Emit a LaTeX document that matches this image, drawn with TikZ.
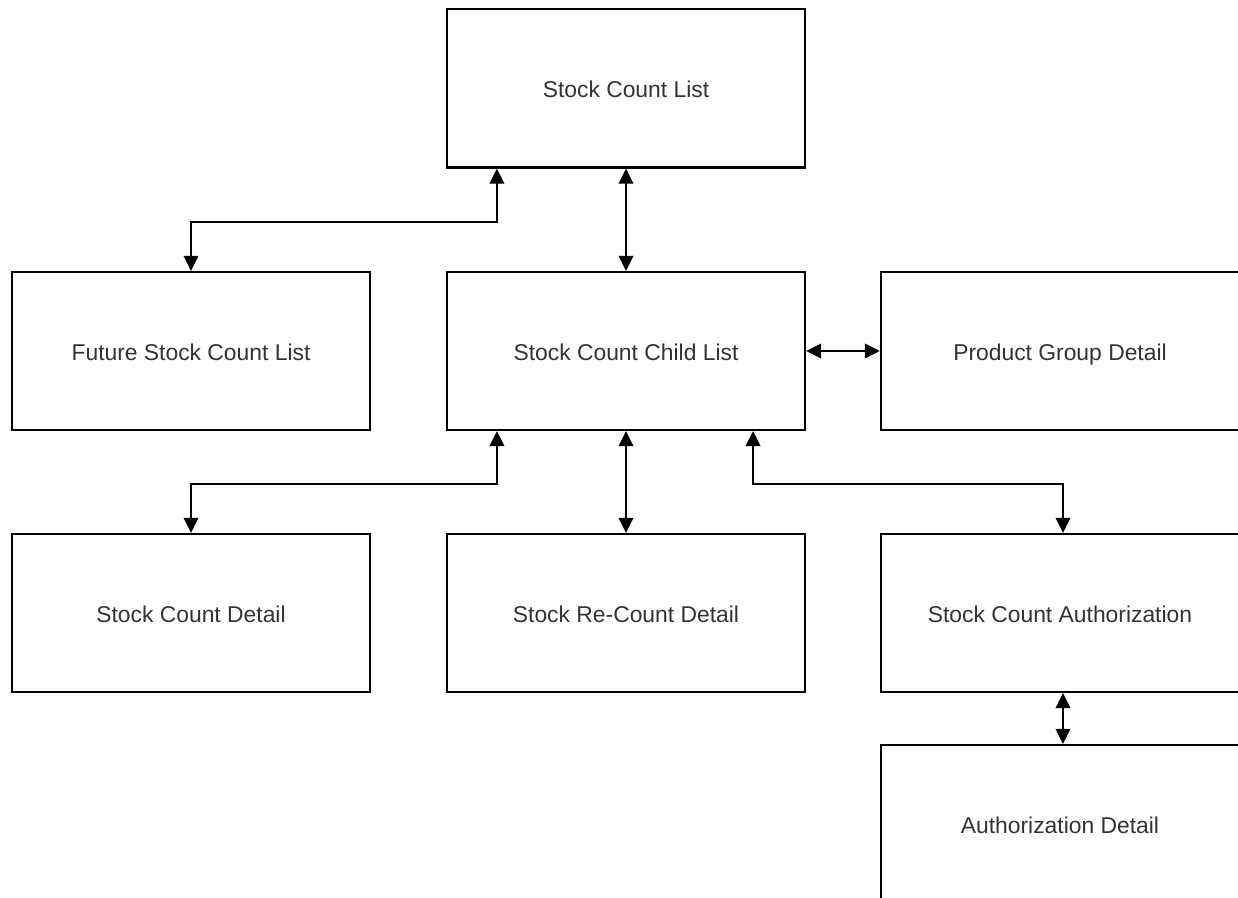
\documentclass[tikz,border=0pt]{standalone}
\usepackage{fontspec}
\setmainfont{Liberation Sans}
\usetikzlibrary{arrows.meta}
\begin{document}
\begin{tikzpicture}[x=0.01cm,y=-0.01cm,
  box/.style={draw,line width=0.6pt,minimum width=3.58cm,minimum height=1.58cm,
    inner sep=0pt,text height=0.72em,text depth=0.2em,
    font=\fontsize{6.5}{8}\selectfont,text=black!80},
  link/.style={line width=0.6pt,
    {Triangle[length=1.5mm,width=1.45mm]}-{Triangle[length=1.5mm,width=1.45mm]}}]
  \clip (0,0) rectangle (1238,898);
  \node[box] (list) at (626,88.5) {Stock Count List};
  \node[box] (future) at (191,351) {Future Stock Count List};
  \node[box] (child) at (626,351) {Stock Count Child List};
  \node[box] (group) at (1060,351) {Product Group Detail};
  \node[box] (detail) at (191,613) {Stock Count Detail};
  \node[box] (recount) at (626,613) {Stock Re-Count Detail};
  \node[box] (auth) at (1060,613) {Stock Count Authorization};
  \node[box] (authdetail) at (1060,824) {Authorization Detail};
  % links from the list
  \draw[link] ([xshift=-1.29cm]list.south) -- ++(0,53) -| (future.north);
  \draw[link] (list.south) -- (child.north);
  \draw[link] (child.east) -- (group.west);
  % links from the child list
  \draw[link] ([xshift=-1.29cm]child.south) -- ++(0,53) -| (detail.north);
  \draw[link] (child.south) -- (recount.north);
  \draw[link] ([xshift=1.27cm]child.south) -- ++(0,53) -| ([xshift=0.03cm]auth.north);
  \draw[link] ([xshift=0.03cm]auth.south) -- ([xshift=0.03cm]authdetail.north);
\end{tikzpicture}
\end{document}
